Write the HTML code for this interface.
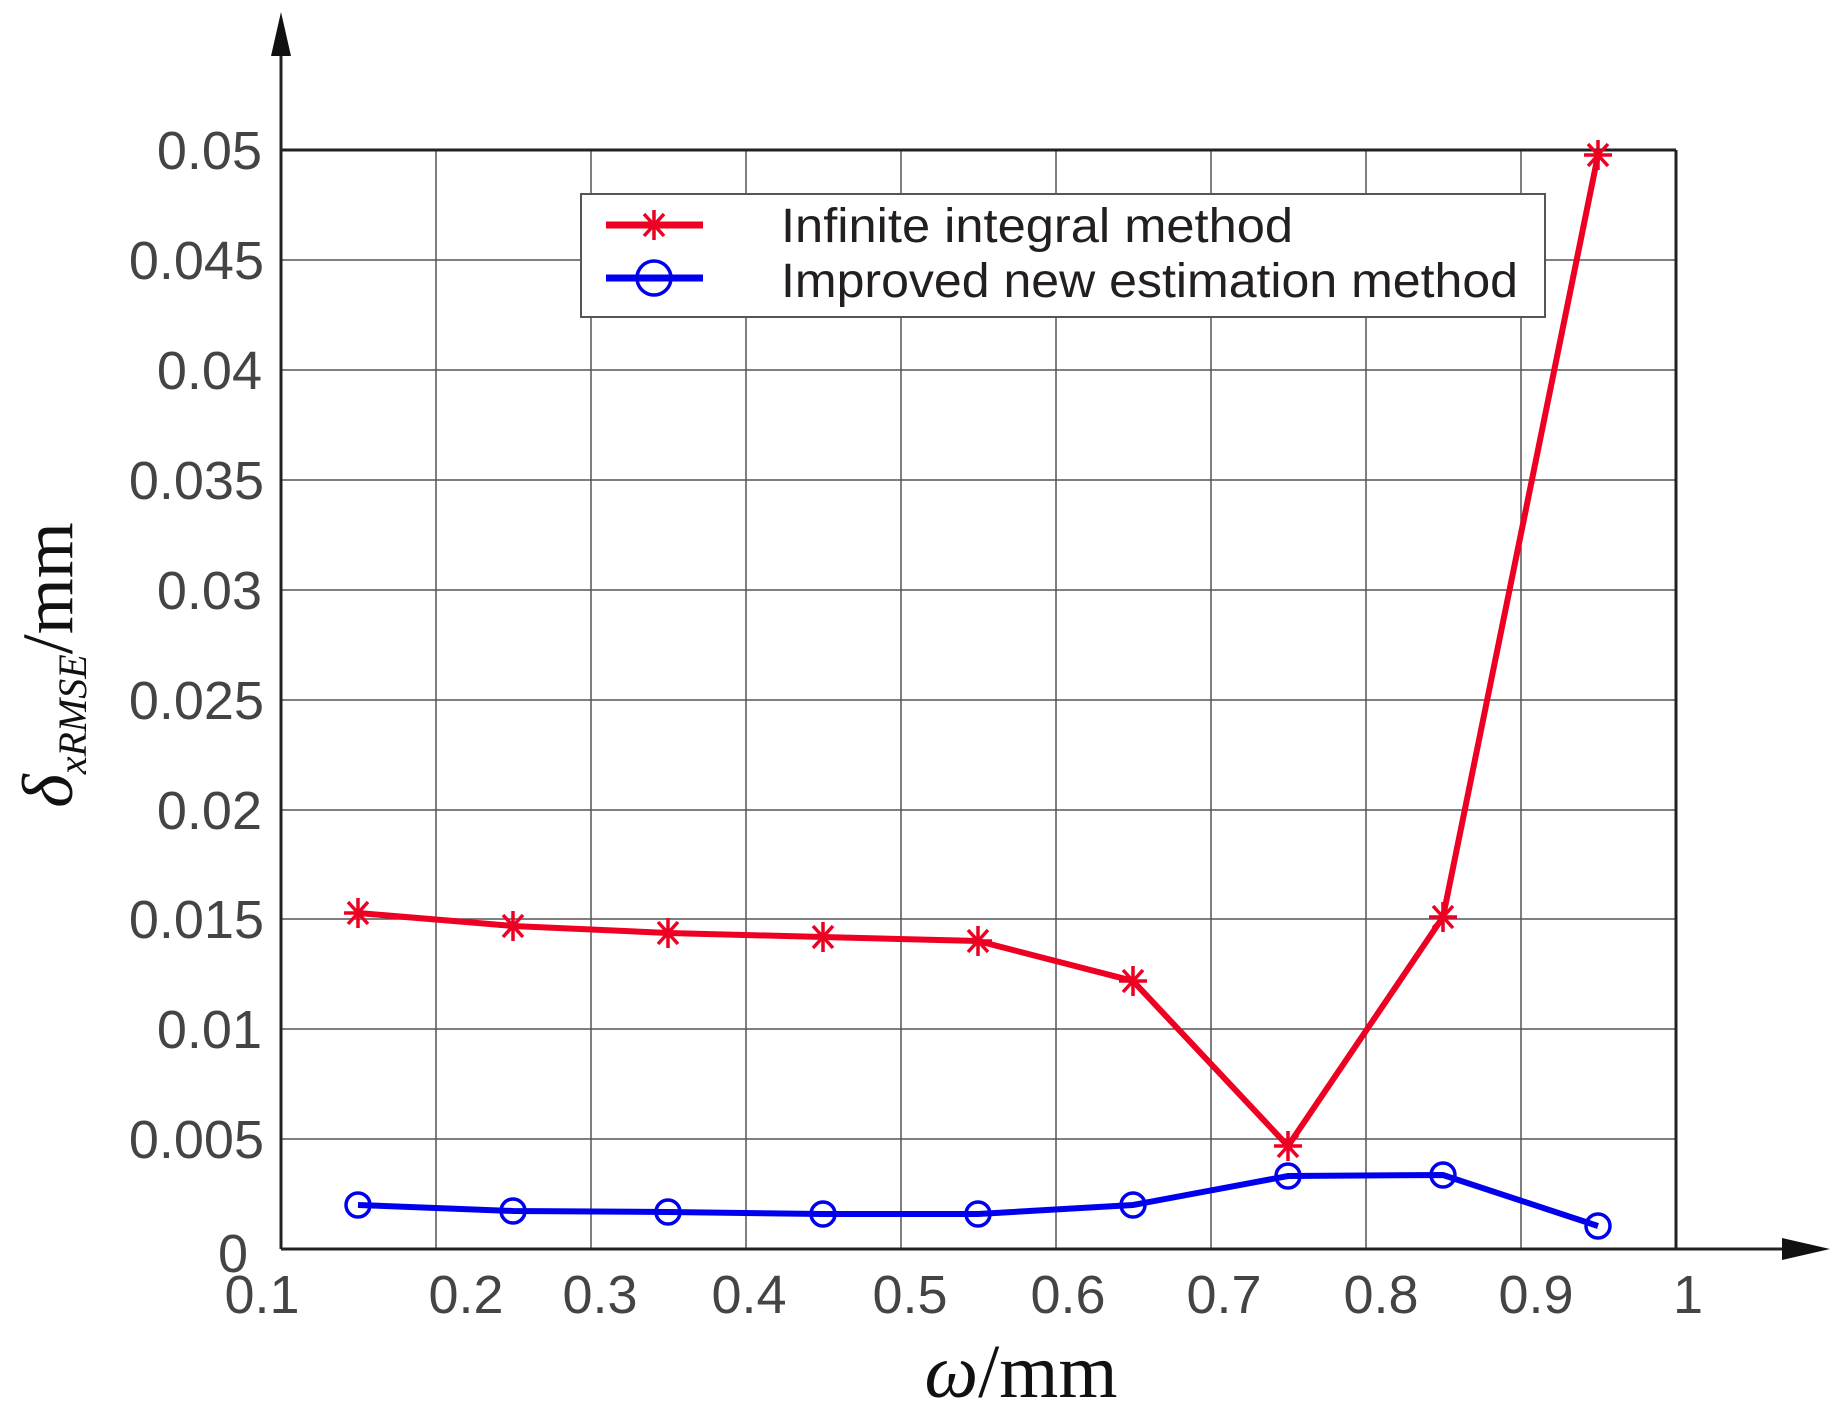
<!DOCTYPE html>
<html><head><meta charset="utf-8"><style>html,body{margin:0;padding:0;background:#fff}svg{display:block}</style></head>
<body>
<svg width="1842" height="1419" viewBox="0 0 1842 1419" xmlns="http://www.w3.org/2000/svg">
<g stroke="#555" stroke-width="1.5">
<line x1="436" y1="150" x2="436" y2="1249"/><line x1="591" y1="150" x2="591" y2="1249"/>
<line x1="746" y1="150" x2="746" y2="1249"/><line x1="901" y1="150" x2="901" y2="1249"/>
<line x1="1056" y1="150" x2="1056" y2="1249"/><line x1="1211" y1="150" x2="1211" y2="1249"/>
<line x1="1366" y1="150" x2="1366" y2="1249"/><line x1="1521" y1="150" x2="1521" y2="1249"/>
<line x1="281" y1="260" x2="1676" y2="260"/><line x1="281" y1="370" x2="1676" y2="370"/>
<line x1="281" y1="480" x2="1676" y2="480"/><line x1="281" y1="590" x2="1676" y2="590"/>
<line x1="281" y1="700" x2="1676" y2="700"/><line x1="281" y1="810" x2="1676" y2="810"/>
<line x1="281" y1="919" x2="1676" y2="919"/><line x1="281" y1="1029" x2="1676" y2="1029"/>
<line x1="281" y1="1139" x2="1676" y2="1139"/>
</g>
<g stroke="#222" stroke-width="3" fill="none">
<line x1="281" y1="150" x2="1676" y2="150"/>
<line x1="1676" y1="150" x2="1676" y2="1249"/>
<line x1="281" y1="40" x2="281" y2="1249"/>
<line x1="281" y1="1249" x2="1800" y2="1249"/>
</g>
<polygon points="281,12 271,56 291,56" fill="#111"/>
<polygon points="1830,1249 1782,1238 1782,1260" fill="#111"/>
<g font-family="Liberation Sans, sans-serif" font-size="54" fill="#444" text-anchor="end">
<text x="262" y="169">0.05</text><text x="264" y="279">0.045</text><text x="262" y="389">0.04</text>
<text x="264" y="499">0.035</text><text x="262" y="609">0.03</text><text x="264" y="719">0.025</text>
<text x="262" y="829">0.02</text><text x="264" y="938">0.015</text><text x="262" y="1048">0.01</text>
<text x="264" y="1158">0.005</text><text x="248" y="1272">0</text>
</g>
<g font-family="Liberation Sans, sans-serif" font-size="54" fill="#444" text-anchor="middle">
<text x="262" y="1313">0.1</text><text x="466" y="1313">0.2</text><text x="600" y="1313">0.3</text>
<text x="749" y="1313">0.4</text><text x="910" y="1313">0.5</text><text x="1068" y="1313">0.6</text>
<text x="1224" y="1313">0.7</text><text x="1381" y="1313">0.8</text><text x="1536" y="1313">0.9</text>
<text x="1688" y="1313">1</text>
</g>
<text x="1021" y="1397" text-anchor="middle" font-family="Liberation Serif, serif" font-size="76" fill="#111"><tspan font-style="italic">ω</tspan>/mm</text>
<g transform="translate(72,665) rotate(-90)">
<text x="0" y="0" text-anchor="middle" font-family="Liberation Serif, serif" font-size="72" fill="#111"><tspan font-style="italic">δ</tspan><tspan font-style="italic" font-size="40" dy="14">xRMSE</tspan><tspan dy="-14">/mm</tspan></text>
</g>
<polyline fill="none" stroke="#0000ee" stroke-width="6" points="358,1205 513,1211 668,1212 823,1214 978,1214 1133,1205 1288,1176 1443,1175 1598,1226"/>
<g fill="none" stroke="#0000ee" stroke-width="3.5">
<circle cx="358" cy="1205" r="12"/><circle cx="513" cy="1211" r="12"/><circle cx="668" cy="1212" r="12"/>
<circle cx="823" cy="1214" r="12"/><circle cx="978" cy="1214" r="12"/><circle cx="1133" cy="1205" r="12"/>
<circle cx="1288" cy="1176" r="12"/><circle cx="1443" cy="1175" r="12"/><circle cx="1598" cy="1226" r="12"/>
</g>
<polyline fill="none" stroke="#ee0022" stroke-width="6" points="358,913 513,926 668,933 823,937 978,941 1133,981 1288,1146 1443,917 1598,155"/>
<defs><g id="st" stroke="#ee0022" stroke-width="3.5"><line x1="-14" y1="0" x2="14" y2="0"/><line x1="0" y1="-15" x2="0" y2="15"/><line x1="-10" y1="-11" x2="10" y2="11"/><line x1="-10" y1="11" x2="10" y2="-11"/></g></defs>
<use href="#st" x="358" y="913"/><use href="#st" x="513" y="926"/><use href="#st" x="668" y="933"/>
<use href="#st" x="823" y="937"/><use href="#st" x="978" y="941"/><use href="#st" x="1133" y="981"/>
<use href="#st" x="1288" y="1146"/><use href="#st" x="1443" y="917"/><use href="#st" x="1598" y="155"/>
<rect x="581" y="194" width="964" height="123" fill="#fff" stroke="#555" stroke-width="2"/>
<line x1="606" y1="225" x2="703" y2="225" stroke="#ee0022" stroke-width="7"/>
<use href="#st" x="654" y="225"/>
<line x1="606" y1="278" x2="703" y2="278" stroke="#0000ee" stroke-width="7"/>
<circle cx="654" cy="278" r="17" fill="none" stroke="#0000ee" stroke-width="3.5"/>
<g font-family="Liberation Sans, sans-serif" font-size="48" fill="#231f20">
<text x="781" y="242" textLength="512" lengthAdjust="spacingAndGlyphs">Infinite integral method</text>
<text x="781" y="297" textLength="737" lengthAdjust="spacingAndGlyphs">Improved new estimation method</text>
</g>
</svg>
</body></html>
